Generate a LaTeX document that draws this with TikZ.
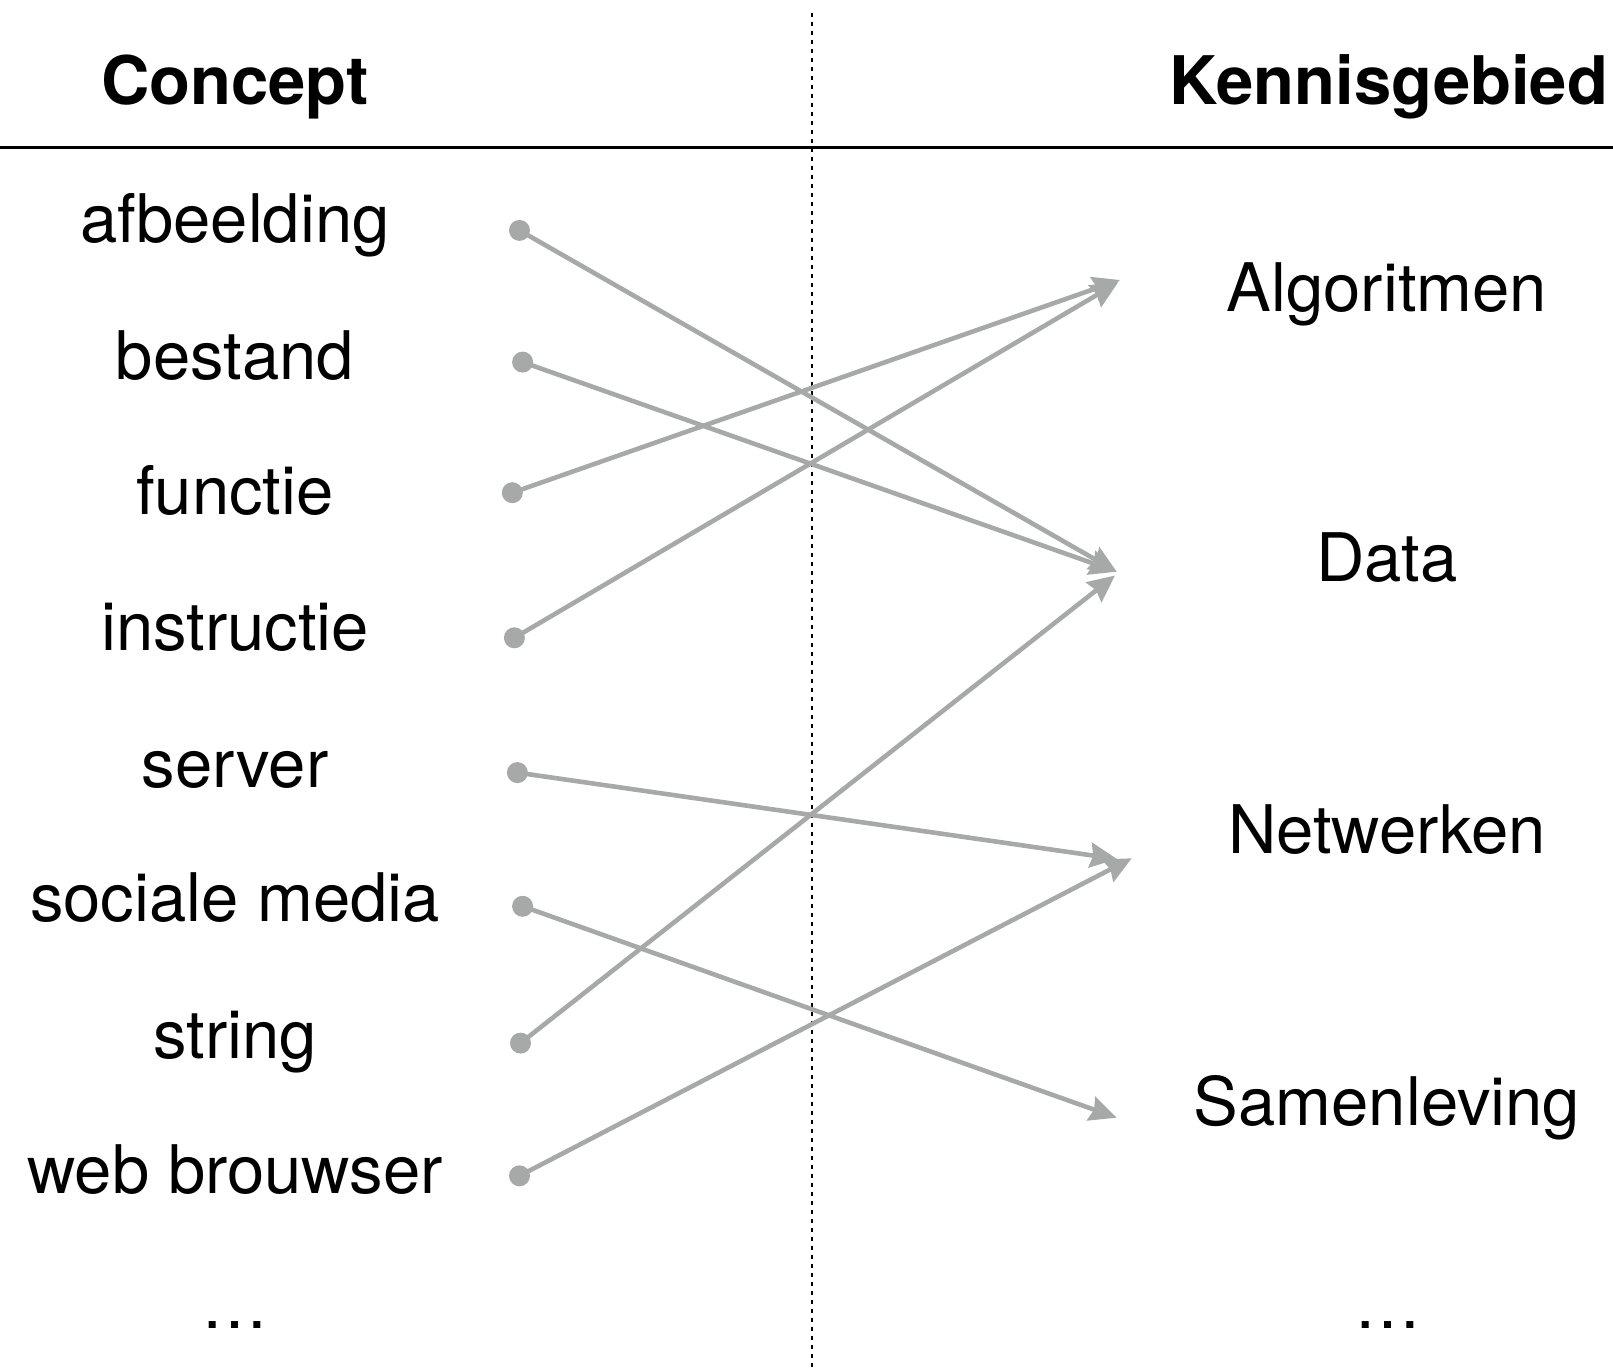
\documentclass[tikz,border=0pt]{standalone}
\usepackage{fontspec}
\setmainfont{TeX Gyre Heros}
\usetikzlibrary{arrows.meta}
\definecolor{linkgray}{RGB}{167,169,169}

\begin{document}
\begin{tikzpicture}[x=1pt,y=-1pt,
  txt/.style={anchor=base, inner sep=0pt, font=\fontsize{67}{80}\selectfont},
  headtxt/.style={anchor=base, inner sep=0pt, font=\fontsize{67}{80}\selectfont\bfseries},
  knob/.style={circle, fill=linkgray, inner sep=0pt, minimum size=21pt},
  link/.style={draw=linkgray, line width=4.6pt,
    -{Stealth[length=27pt,width=25pt,inset=3pt]}}
]
\useasboundingbox (0,0) rectangle (1613,1367);

% column headers and separators
\node[headtxt] (hconcept) at (235,105) {Concept};
\node[headtxt] (hgebied) at (1389,105) {Kennisgebied};
\draw[line width=2.7pt] (0,147.7) -- (1613,147.7);
\draw[line width=1.8pt, dash pattern=on 4.5pt off 4.5pt] (812,12.7) -- (812,1367);

% concepts
\node[txt] (c1) at (235,242.5) {afbeelding};
\node[txt] (c2) at (235,379) {bestand};
\node[txt] (c3) at (235,514.6) {functie};
\node[txt] (c4) at (235,650.4) {instructie};
\node[txt] (c5) at (235,787.3) {server};
\node[txt] (c6) at (235,921.7) {sociale media};
\node[txt] (c7) at (235,1058.3) {string};
\node[txt] (c8) at (235,1193.3) {web brouwser};
\node[txt] (c9) at (235,1328) {…};

% knowledge areas
\node[txt] (k1) at (1387,311.7) {Algoritmen};
\node[txt] (k2) at (1387,581.7) {Data};
\node[txt] (k3) at (1387,853.3) {Netwerken};
\node[txt] (k4) at (1387,1125) {Samenleving};
\node[txt] (k5) at (1388,1328) {…};

% connector start knobs
\node[knob] (d1) at (519.5,230.4) {};
\node[knob] (d2) at (522.6,362.1) {};
\node[knob] (d3) at (512.3,492.7) {};
\node[knob] (d4) at (514.4,637.8) {};
\node[knob] (d5) at (517.4,772.6) {};
\node[knob] (d6) at (522.6,906.3) {};
\node[knob] (d7) at (520.5,1043.1) {};
\node[knob] (d8) at (519.5,1175.8) {};

% arrow end points in front of each knowledge area
\coordinate (algA) at (1120,280);
\coordinate (algB) at (1118,282.5);
\coordinate (datA) at (1116.7,571.7);
\coordinate (datB) at (1115,575.5);
\coordinate (netA) at (1117,859);
\coordinate (netB) at (1131.7,858.3);
\coordinate (samA) at (1116.7,1117.7);

% links
\draw[link] (d1.center) -- (datA);
\draw[link] (d2.center) -- (datA);
\draw[link] (d3.center) -- (algA);
\draw[link] (d4.center) -- (algB);
\draw[link] (d5.center) -- (netA);
\draw[link] (d6.center) -- (samA);
\draw[link] (d7.center) -- (datB);
\draw[link] (d8.center) -- (netB);
\end{tikzpicture}
\end{document}
